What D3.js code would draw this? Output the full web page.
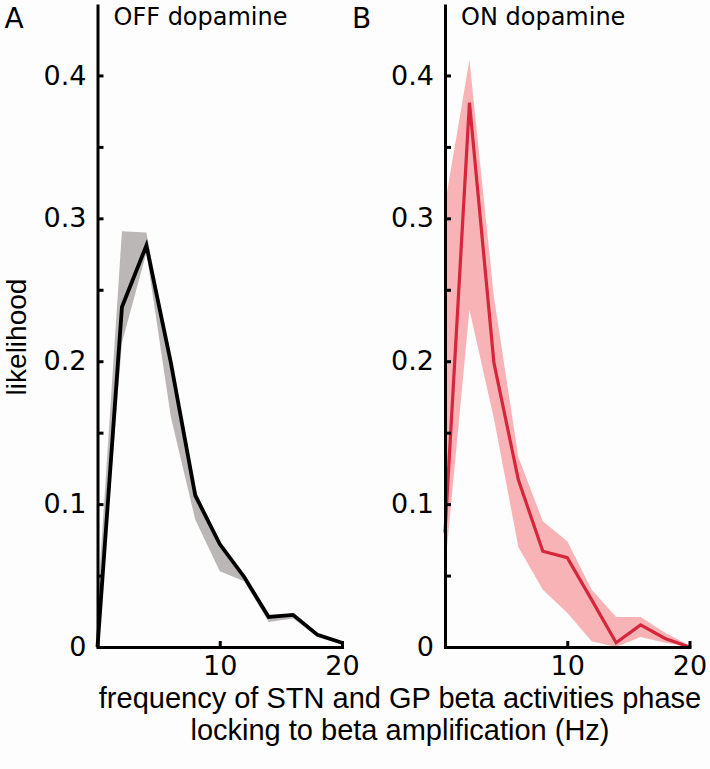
<!DOCTYPE html>
<html>
<head>
<meta charset="utf-8">
<script src="https://cdn.jsdelivr.net/npm/d3@7"></script>
<style>
  html, body { margin: 0; padding: 0; background: #fdfdfd; }
  svg { display: block; }
</style>
</head>
<body>
<script>
// ---- data ----
const freq = [0, 2, 4, 6, 8, 10, 12, 14, 16, 18, 20];

const offMean  = [0, 0.238, 0.281, 0.199, 0.106, 0.072, 0.049, 0.021, 0.0225, 0.0085, 0.003];
const offUpper = [0.03, 0.291, 0.290, 0.200, 0.110, 0.073, 0.050, 0.022, 0.023, 0.009, 0.004];
const offLower = [0, 0.213, 0.276, 0.161, 0.089, 0.053, 0.046, 0.0175, 0.020, 0.007, 0.002];

const onMean  = [0.080, 0.381, 0.199, 0.117, 0.067, 0.0625, 0.033, 0.003, 0.0155, 0.006, 0];
const onUpper = [0.310, 0.411, 0.245, 0.133, 0.088, 0.074, 0.040, 0.021, 0.021, 0.010, 0.001];
const onLower = [0.055, 0.236, 0.160, 0.070, 0.040, 0.024, 0.004, 0, 0.007, 0.003, 0];

const yTicks = [0, 0.05, 0.1, 0.15, 0.2, 0.25, 0.3, 0.35, 0.4];
const yLabelTicks = [0, 0.1, 0.2, 0.3, 0.4];
const xTicks = [10, 20];

const panels = [
  { letter: "A", title: "OFF dopamine", mean: offMean, upper: offUpper, lower: offLower,
    lineColor: "#000000", bandColor: "#bcb7b7", lineWidth: 3.8, x0: 97.5, x1: 342 },
  { letter: "B", title: "ON dopamine", mean: onMean, upper: onUpper, lower: onLower,
    lineColor: "#d5263c", bandColor: "#f8b3b6", lineWidth: 3.2, x0: 445, x1: 689.5 }
];

// ---- drawing ----
const W = 710, H = 769;
const svg = d3.select("body").append("svg").attr("width", W).attr("height", H);
svg.append("rect").attr("width", W).attr("height", H).attr("fill", "#fdfdfd");

const y = d3.scaleLinear().domain([0, 0.45]).range([647, 4]);
const tickFont = "'DejaVu Sans', sans-serif";

panels.forEach(p => {
  const x = d3.scaleLinear().domain([0, 20]).range([p.x0, p.x1]);
  const g = svg.append("g");

  const pts = freq.map((f, i) => ({ f, m: p.mean[i], u: p.upper[i], l: p.lower[i] }));

  g.append("path")
    .datum(pts)
    .attr("fill", p.bandColor)
    .attr("d", d3.area().x(d => x(d.f)).y0(d => y(d.l)).y1(d => y(d.u)));

  g.append("path")
    .datum(pts)
    .attr("fill", "none")
    .attr("stroke", p.lineColor)
    .attr("stroke-width", p.lineWidth)
    .attr("stroke-linejoin", "miter")
    .attr("d", d3.line().x(d => x(d.f)).y(d => y(d.m)));

  // y axis
  const yAxis = d3.axisLeft(y)
    .tickValues(yTicks)
    .tickSizeInner(-6)
    .tickSizeOuter(0)
    .tickPadding(11)
    .tickFormat(v => yLabelTicks.some(t => Math.abs(t - v) < 1e-9) ? d3.format("")(+v.toFixed(2)) : "");
  const ya = g.append("g").attr("transform", `translate(${p.x0},0)`).call(yAxis);
  ya.select(".domain").attr("stroke", "#000").attr("stroke-width", 3);
  ya.selectAll(".tick line").attr("stroke", "#000").attr("stroke-width", 3);
  ya.selectAll(".tick text").attr("font-family", tickFont).attr("font-size", 27).attr("fill", "#000");

  // x axis
  const xAxis = d3.axisBottom(x)
    .tickValues(xTicks)
    .tickSizeInner(-6)
    .tickSizeOuter(0)
    .tickPadding(9)
    .tickFormat(d3.format("d"));
  const xa = g.append("g").attr("transform", "translate(0,647)").call(xAxis);
  xa.select(".domain").attr("stroke", "#000").attr("stroke-width", 3).attr("stroke-linecap", "square");
  xa.selectAll(".tick line").attr("stroke", "#000").attr("stroke-width", 3);
  xa.selectAll(".tick text").attr("font-family", tickFont).attr("font-size", 27).attr("fill", "#000");

  // panel letter & title
  svg.append("text").attr("x", p.x0 - 93).attr("y", 28)
    .attr("font-family", tickFont).attr("font-size", 28).text(p.letter);
  svg.append("text").attr("x", p.x0 + 16).attr("y", 25)
    .attr("font-family", tickFont).attr("font-size", 24).text(p.title);
});

// axis titles
svg.append("text")
  .attr("transform", "translate(26,337) rotate(-90)")
  .attr("text-anchor", "middle")
  .attr("font-family", "'Liberation Sans', Arial, sans-serif")
  .attr("font-size", 28)
  .text("likelihood");

svg.append("text")
  .attr("x", 400).attr("y", 708)
  .attr("text-anchor", "middle")
  .attr("font-family", "'Liberation Sans', Arial, sans-serif")
  .attr("font-size", 29)
  .text("frequency of STN and GP beta activities phase");
svg.append("text")
  .attr("x", 400).attr("y", 740)
  .attr("text-anchor", "middle")
  .attr("font-family", "'Liberation Sans', Arial, sans-serif")
  .attr("font-size", 29)
  .text("locking to beta amplification (Hz)");
</script>
</body>
</html>
